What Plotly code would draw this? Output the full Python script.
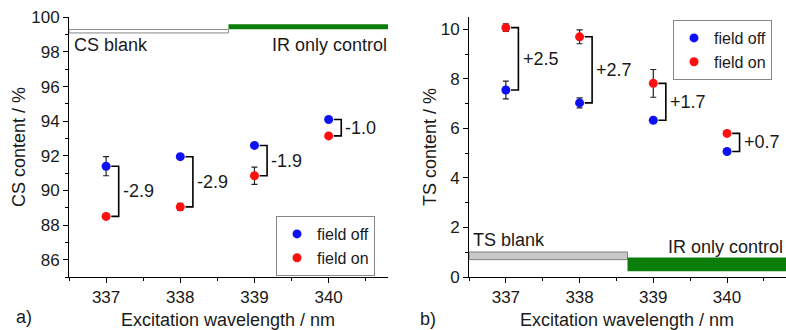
import plotly.graph_objects as go

# ---------------- data ----------------
wavelengths = [337, 338, 339, 340]

cs_field_off = [91.4, 91.95, 92.6, 94.1]
cs_field_off_err = [0.55, 0.1, 0.1, 0.1]
cs_field_on = [88.5, 89.05, 90.85, 93.15]
cs_field_on_err = [0.1, 0.2, 0.5, 0.1]
cs_diff_labels = ["-2.9", "-2.9", "-1.9", "-1.0"]

ts_field_off = [7.55, 7.03, 6.33, 5.07]
ts_field_off_err = [0.36, 0.2, 0.08, 0.1]
ts_field_on = [10.07, 9.7, 7.82, 5.8]
ts_field_on_err = [0.15, 0.28, 0.56, 0.1]
ts_diff_labels = ["+2.5", "+2.7", "+1.7", "+0.7"]

# reference bands: [y_low, y_high]
cs_blank = [99.1, 99.3]
cs_ir_control = [99.31, 99.6]
ts_blank = [0.70, 1.01]
ts_ir_control = [0.23, 0.79]
band_split = 338.65  # boundary between blank and IR-only control bands

x_range = [336.5, 340.8]
cs_y_range = [85, 100.02]
ts_y_range = [0, 10.5]
cs_y_ticks = [86, 88, 90, 92, 94, 96, 98, 100]
ts_y_ticks = [0, 2, 4, 6, 8, 10]

BLUE = "#1010f5"
RED = "#ff1010"
GREEN = "#0a7d0a"
FONT = "Liberation Sans, Arial, sans-serif"
TXT = "#1a1a1a"

W, H = 786, 330
ML, MR, MT, MB = 69, 0, 17, 53
PW = W - ML - MR
PH = H - MT - MB


def px_x(p):
    return (p - ML) / PW


def px_y(p):
    return (H - MB - p) / PH


fig = go.Figure()

panels = [
    ("x", "y", cs_field_off, cs_field_off_err, cs_field_on, cs_field_on_err, cs_diff_labels, "legend"),
    ("x2", "y2", ts_field_off, ts_field_off_err, ts_field_on, ts_field_on_err, ts_diff_labels, "legend2"),
]

for xa, ya, off, off_e, on, on_e, labels, leg in panels:
    # brackets
    for i, w in enumerate(wavelengths):
        fig.add_trace(go.Scatter(
            x=[w + 0.07, w + 0.17, w + 0.17, w + 0.07],
            y=[off[i], off[i], on[i], on[i]],
            mode="lines", line=dict(color="black", width=1.6),
            showlegend=False, hoverinfo="skip", xaxis=xa, yaxis=ya))
        fig.add_annotation(x=w + 0.2, y=(off[i] + on[i]) / 2, xref=xa, yref=ya,
                           text=labels[i], showarrow=False, xanchor="left",
                           font=dict(family=FONT, size=18, color=TXT))
    fig.add_trace(go.Scatter(
        x=wavelengths, y=off, mode="markers", name="field off",
        marker=dict(color=BLUE, size=9),
        error_y=dict(type="data", array=off_e, color="#222", thickness=1.2, width=3),
        xaxis=xa, yaxis=ya, legend=leg))
    fig.add_trace(go.Scatter(
        x=wavelengths, y=on, mode="markers", name="field on",
        marker=dict(color=RED, size=9),
        error_y=dict(type="data", array=on_e, color="#222", thickness=1.2, width=3),
        xaxis=xa, yaxis=ya, legend=leg))

# bands
fig.add_shape(type="rect", xref="x", yref="y", x0=x_range[0], x1=band_split,
              y0=cs_blank[0], y1=cs_blank[1], fillcolor="white",
              line=dict(color="#888", width=1))
fig.add_shape(type="rect", xref="x", yref="y", x0=band_split, x1=x_range[1],
              y0=cs_ir_control[0], y1=cs_ir_control[1], fillcolor=GREEN,
              line=dict(color=GREEN, width=0))
fig.add_shape(type="rect", xref="x2", yref="y2", x0=x_range[0], x1=band_split,
              y0=ts_blank[0], y1=ts_blank[1], fillcolor="#c8c8c8",
              line=dict(color="#808080", width=1))
fig.add_shape(type="rect", xref="x2", yref="y2", x0=band_split, x1=x_range[1],
              y0=ts_ir_control[0], y1=ts_ir_control[1], fillcolor=GREEN,
              line=dict(color=GREEN, width=0))

lab = dict(family=FONT, size=18, color=TXT)


def note(px, py, text, anchor="center", angle=0):
    fig.add_annotation(x=px_x(px), y=px_y(py), xref="paper", yref="paper", text=text,
                       showarrow=False, xanchor=anchor, yanchor="middle",
                       textangle=angle, font=lab)


note(72, 45, "CS blank", "left")
note(389, 45, "IR only control", "right")
note(471, 240, "TS blank", "left")
note(785, 247, "IR only control", "right")
note(228, 320, "Excitation wavelength / nm")
note(627, 320, "Excitation wavelength / nm")
note(19, 147, "CS content / %", angle=-90)
note(430, 147, "TS content / %", angle=-90)
note(24, 317, "a)")
note(428, 319, "b)")

xcommon = dict(range=x_range, tickvals=wavelengths, ticks="outside", ticklen=5,
               tickwidth=1, tickcolor="black", showline=True, linecolor="black",
               linewidth=1, showgrid=False, zeroline=False,
               minor=dict(dtick=0.5, tick0=336.5, ticks="outside", ticklen=3, tickcolor="black"),
               tickfont=dict(family=FONT, size=17, color=TXT))
ycommon = dict(ticks="outside", ticklen=5, tickwidth=1, tickcolor="black",
               showline=True, linecolor="black", linewidth=1, showgrid=False,
               zeroline=False,
               tickfont=dict(family=FONT, size=17, color=TXT))

legcommon = dict(bgcolor="white", bordercolor="#888", borderwidth=1,
                 font=dict(family=FONT, size=16, color=TXT), tracegroupgap=0,
                 itemwidth=30)

fig.update_layout(
    width=W, height=H,
    margin=dict(l=ML, r=MR, t=MT, b=MB, pad=0),
    paper_bgcolor="white", plot_bgcolor="white",
    xaxis=dict(domain=[0, px_x(388)], anchor="y", **xcommon),
    yaxis=dict(domain=[0, 1], anchor="x", range=cs_y_range, tickvals=cs_y_ticks,
               minor=dict(dtick=1, tick0=85, ticks="outside", ticklen=3, tickcolor="black"),
               **ycommon),
    xaxis2=dict(domain=[px_x(469), 1], anchor="y2", **xcommon),
    yaxis2=dict(domain=[0, 1], anchor="x2", range=ts_y_range, tickvals=ts_y_ticks,
                minor=dict(dtick=1, tick0=0, ticks="outside", ticklen=3, tickcolor="black"),
                **ycommon),
    legend=dict(x=px_x(375), y=px_y(276), xanchor="right", yanchor="bottom", **legcommon),
    legend2=dict(x=px_x(772), y=px_y(20), xanchor="right", yanchor="top", **legcommon),
    showlegend=True,
)

fig.write_html(
    "out.html",
    config={"displayModeBar": False},
    post_script="document.body.style.margin='0';document.body.style.overflow='hidden';",
)
